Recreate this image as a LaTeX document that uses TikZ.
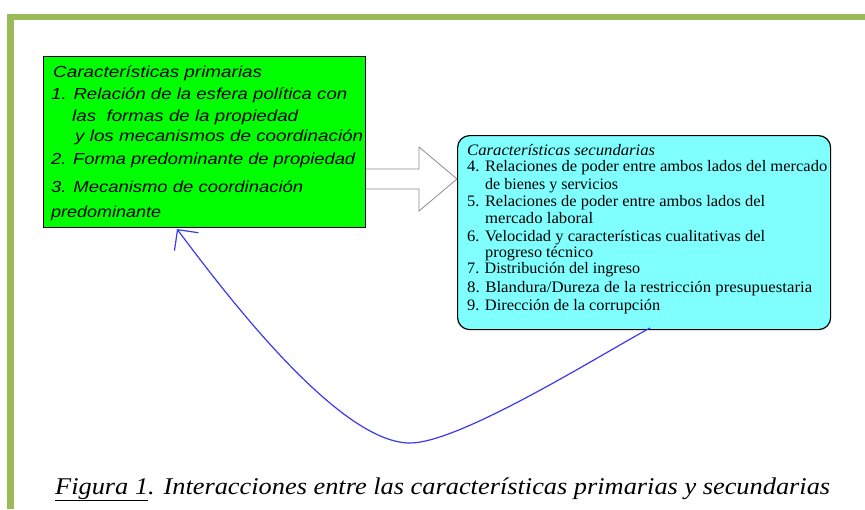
\documentclass[tikz,border=0pt]{standalone}
\usepackage{fontspec}
\setmainfont{Liberation Serif}
\newfontfamily\arialf{Liberation Sans}
\usepackage{graphicx}
\usetikzlibrary{arrows.meta}
\definecolor{framegreen}{HTML}{9BBB59}
\definecolor{primgreen}{HTML}{00FF00}
\definecolor{seccyan}{HTML}{80FFFF}
\definecolor{curveblue}{HTML}{3A3AF5}
\definecolor{arrgray}{HTML}{8C8C8C}
\newcommand{\fitw}[2]{\resizebox{#1pt}{\height}{#2}}
\begin{document}
\begin{tikzpicture}[x=1pt,y=-1pt,
  primtext/.style={anchor=base west, inner sep=0pt, font=\arialf\itshape\fontsize{16}{19}\selectfont},
  sectext/.style={anchor=base west, inner sep=0pt, font=\fontsize{16}{18}\selectfont},
  framebar/.style={fill=framegreen, draw=none},
  blockarrow/.style={draw=arrgray, fill=white, line width=0.8pt, line join=miter},
  feedback/.style={draw=curveblue, line width=1.2pt, -{Straight Barb[length=15pt,width=30pt,line width=1.2pt]}}]
\useasboundingbox (0,0) rectangle (865,509);
\fill[white] (0,0) rectangle (865,509);
% frame
\path[framebar] (7,14) rectangle (865,20);
\path[framebar] (7,14) rectangle (14,509);
% block arrow
\draw[blockarrow] (360,169) -- (419,169) -- (419,147) -- (457,179) -- (419,211) -- (419,189) -- (360,189);
% primary box
\node[draw=black, fill=primgreen, line width=1pt, anchor=north west, inner sep=0pt,
      minimum width=322pt, minimum height=171pt] (primbox) at (43,56) {};
\node[primtext] (g0) at (53,77) {\fitw{209}{Características primarias}};
\node[primtext] (g1) at (51,99) {\fitw{296}{1. Relación de la esfera política con}};
\node[primtext] (g2) at (72,121) {\fitw{226}{las~ formas de la propiedad}};
\node[primtext] (g3) at (75,141) {\fitw{288}{y los mecanismos de coordinación}};
\node[primtext] (g4) at (51,164) {\fitw{304}{2. Forma predominante de propiedad}};
\node[primtext] (g5) at (51,192) {\fitw{252}{3. Mecanismo de coordinación}};
\node[primtext] (g6) at (51,217) {\fitw{110}{predominante}};
% secondary box
\node[draw=black, fill=seccyan, line width=1.2pt, rounded corners=12pt, anchor=north west, inner sep=0pt,
      minimum width=373pt, minimum height=194pt] (secbox) at (457,135) {};
\node[sectext, font=\itshape\fontsize{16}{18}\selectfont] (s0) at (467,155) {\fitw{188}{Características secundarias}};
\node[sectext] (s1) at (467,171) {\fitw{360}{4. Relaciones de poder entre ambos lados del mercado}};
\node[sectext] (s2) at (485,189) {\fitw{133}{de bienes y servicios}};
\node[sectext] (s3) at (467,206) {\fitw{298}{5. Relaciones de poder entre ambos lados del}};
\node[sectext] (s4) at (485,223) {\fitw{108}{mercado laboral}};
\node[sectext] (s5) at (467,241) {\fitw{298}{6. Velocidad y características cualitativas del}};
\node[sectext] (s6) at (485,257) {\fitw{108}{progreso técnico}};
\node[sectext] (s7) at (467,273) {\fitw{173}{7. Distribución del ingreso}};
\node[sectext] (s8) at (467,292) {\fitw{345}{8. Blandura/Dureza de la restricción presupuestaria}};
\node[sectext] (s9) at (467,310) {\fitw{193}{9. Dirección de la corrupción}};
% feedback curve
\coordinate (cstart) at (650,328);
\coordinate (ctip) at (177,229);
\draw[feedback] (cstart) .. controls (600,355) and (460,443) .. (410,443)
   .. controls (340,443) and (230,300) .. (ctip);
% caption
\node[anchor=base west, inner sep=0pt, font=\itshape\fontsize{24}{28}\selectfont] (caption) at (55,494)
   {\fitw{775}{\underline{Figura 1}. Interacciones entre las características primarias y secundarias}};
\end{tikzpicture}
\end{document}
